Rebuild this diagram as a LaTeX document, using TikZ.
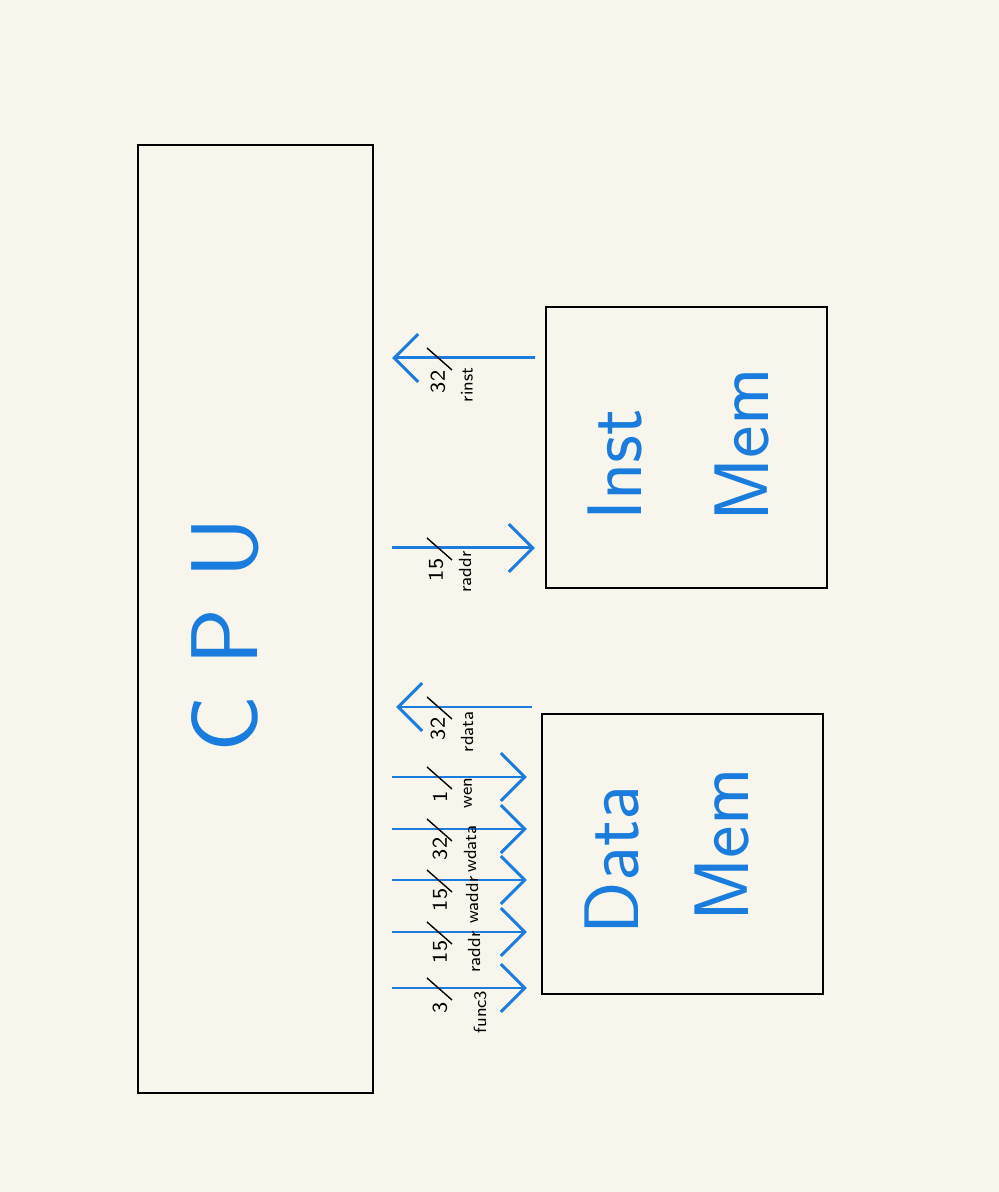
\documentclass[tikz,border=0pt]{standalone}
\usepackage{tikz}
\usetikzlibrary{arrows.meta}
\definecolor{inkblue}{HTML}{1A7DDD}
\definecolor{paper}{HTML}{F8F6EC}
\tikzset{
  unitbox/.style={draw=black, line width=0.6pt, inner sep=0pt},
  bus/.style={draw=inkblue, line width=0.85pt, -{Straight Barb[length=2.4mm,width=4.8mm,line width=0.85pt]}},
  tick/.style={draw=black, line width=0.4pt},
  buswidth/.style={font=\sffamily\fontsize{6}{7}\selectfont, rotate=90, inner sep=0pt},
  signame/.style={font=\sffamily\fontsize{5}{6}\selectfont, rotate=90, inner sep=0pt},
  biglabel/.style={text=inkblue, font=\sffamily\fontsize{22}{24}\selectfont, rotate=90, inner sep=0pt}
}

\begin{document}
\begin{tikzpicture}
  \fill[paper] (0,0) rectangle (9.99,11.92);
  \useasboundingbox (0,0) rectangle (9.99,11.92);

  % units
  \node[unitbox, minimum width=2.35cm, minimum height=9.48cm] (cpu) at (2.555,5.73) {};
  \node[unitbox, minimum width=2.81cm, minimum height=2.81cm] (imem) at (6.865,7.445) {};
  \node[unitbox, minimum width=2.81cm, minimum height=2.80cm] (dmem) at (6.825,3.38) {};

  \node[biglabel, font=\sffamily\fontsize{27}{30}\selectfont] (cpulbl) at (2.25,5.57) {C P U};
  \node[biglabel] (instlbl) at (6.15,7.27) {Inst};
  \node[biglabel] (imemlbl) at (7.42,7.47) {Mem};
  \node[biglabel] (datalbl) at (6.12,3.32) {Data};
  \node[biglabel] (dmemlbl) at (7.22,3.47) {Mem};

  % instruction memory buses
  \draw[bus, shorten <=1mm, shorten >=1.8mm] (imem.west |- 0,8.34) -- (cpu.east |- 0,8.34);
  \draw[tick] (4.27,8.44) -- (4.52,8.22);
  \node[buswidth] (w-rinst) at (4.38,8.10) {32};
  \node[signame] (s-rinst) at (4.67,8.07) {rinst};

  \draw[bus, shorten <=1.8mm, shorten >=1mm] (cpu.east |- 0,6.44) -- (imem.west |- 0,6.44);
  \draw[tick] (4.27,6.54) -- (4.52,6.32);
  \node[buswidth] (w-iraddr) at (4.36,6.22) {15};
  \node[signame] (s-iraddr) at (4.65,6.20) {raddr};

  % data memory buses
  \draw[bus, shorten <=0.9mm, shorten >=2.2mm] (dmem.west |- 0,4.85) -- (cpu.east |- 0,4.85);
  \draw[tick] (4.27,4.95) -- (4.52,4.73);
  \node[buswidth] (w-rdata) at (4.38,4.63) {32};
  \node[signame] (s-rdata) at (4.67,4.60) {rdata};

  \foreach \y/\w/\sig in {4.15/1/wen, 3.63/32/wdata, 3.12/15/waddr, 2.60/15/draddr, 2.04/3/func3}{
    \draw[bus, shorten <=1.8mm, shorten >=1.4mm] (cpu.east |- 0,\y) -- (dmem.west |- 0,\y);
    \draw[tick] (4.27,\y+0.10) -- (4.52,\y-0.12);
    \node[buswidth] (w-\sig) at (4.40,\y-0.20) {\w};
  }
  \node[signame] (s-wen) at (4.68,3.99) {wen};
  \node[signame] (s-wdata) at (4.70,3.43) {wdata};
  \node[signame] (s-waddr) at (4.72,2.92) {waddr};
  \node[signame] (s-draddr) at (4.74,2.40) {raddr};
  \node[signame] (s-func3) at (4.80,1.80) {func3};
\end{tikzpicture}
\end{document}
